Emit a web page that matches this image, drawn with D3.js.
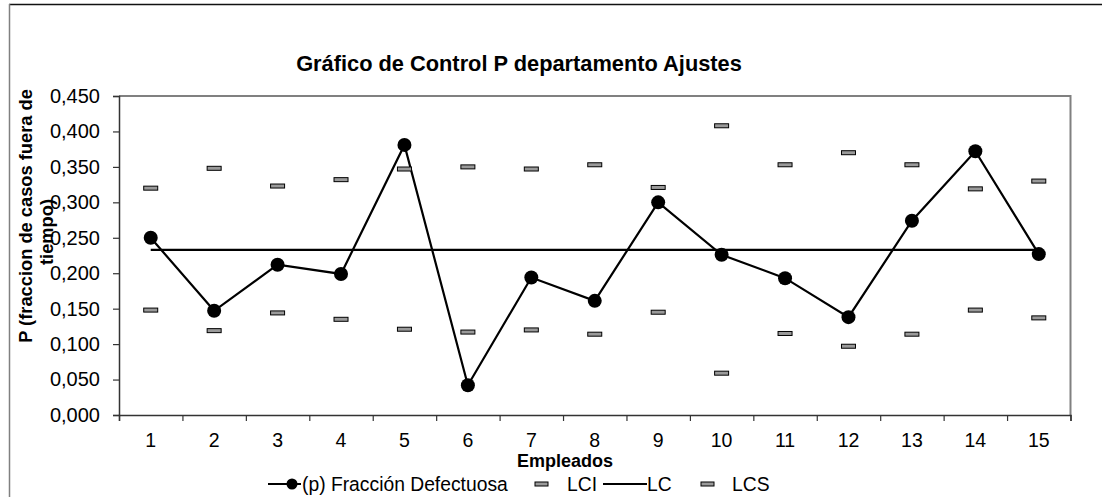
<!DOCTYPE html>
<html><head><meta charset="utf-8">
<script src="https://cdn.jsdelivr.net/npm/d3@7"></script>
<style>
html,body{margin:0;padding:0;background:#fff;}
text{font-family:"Liberation Sans",Arial,sans-serif;fill:#000;}
</style></head>
<body>
<svg id="chart" width="1102" height="497"></svg>
<script>
// ---- data ----
const categories = ["1","2","3","4","5","6","7","8","9","10","11","12","13","14","15"];
const fraccion = [0.250,0.147,0.212,0.199,0.381,0.042,0.194,0.161,0.300,0.226,0.193,0.138,0.274,0.372,0.227];
const lci = [0.148,0.119,0.144,0.135,0.121,0.117,0.120,0.114,0.145,0.059,0.115,0.097,0.114,0.148,0.137];
const lcValue = 0.233;
const lc = categories.map(() => lcValue);
const lcs = [0.320,0.348,0.323,0.332,0.347,0.350,0.347,0.353,0.321,0.408,0.353,0.370,0.353,0.319,0.330];
const yTicks = [0,0.05,0.10,0.15,0.20,0.25,0.30,0.35,0.40,0.45];
const title = "Gráfico de Control P departamento Ajustes";
const xTitle = "Empleados";
const yTitleLines = ["P (fraccion de casos fuera de","tiempo)"];
const legendLabels = ["(p) Fracción Defectuosa","LCI","LC","LCS"];

// ---- layout ----
const svg = d3.select("#chart");
const L = 119, R = 1070.5, T = 96, B = 415;
const x = d3.scaleBand().domain(categories).range([L, R]).padding(0);
const xb = d3.scaleLinear().domain([0, categories.length]).range([L, R]);
const y = d3.scaleLinear().domain([0, 0.45]).range([B, T]);
const loc = d3.formatLocale({decimal:",", thousands:".", grouping:[3], currency:["",""]});
const fmt = loc.format(".3f");
const cx = d => x(d) + x.bandwidth()/2;

// outer chart border
svg.append("line").attr("x1",9).attr("x2",1102).attr("y1",4.5).attr("y2",4.5).attr("stroke","#111").attr("stroke-width",1.5);
svg.append("line").attr("x1",9.5).attr("x2",9.5).attr("y1",4).attr("y2",497).attr("stroke","#808080").attr("stroke-width",1.5);

// plot area border (top/right gray)
svg.append("path").attr("d",`M${L},${T}H${R}V${B}`).attr("fill","none").attr("stroke","#808080").attr("stroke-width",2);

// y axis
const yAxis = svg.append("g").attr("transform",`translate(${L},0)`)
  .call(d3.axisLeft(y).tickValues(yTicks).tickFormat(fmt).tickSize(6).tickPadding(13));
yAxis.select(".domain").attr("stroke","#333").attr("stroke-width",1.5);
yAxis.selectAll(".tick line").attr("stroke","#333").attr("stroke-width",1.2);
yAxis.selectAll("text").style("font-size","20px").attr("fill","#000");

// x axis boundary ticks
const xAxisB = svg.append("g").attr("transform",`translate(0,${B})`)
  .call(d3.axisBottom(xb).tickValues(d3.range(0, categories.length+1)).tickFormat("").tickSize(6));
xAxisB.select(".domain").attr("stroke","#333").attr("stroke-width",1.5);
xAxisB.selectAll(".tick line").attr("stroke","#333").attr("stroke-width",1.2);
// x labels
const xAxisL = svg.append("g").attr("transform",`translate(0,${B})`)
  .call(d3.axisBottom(x).tickSize(0).tickPadding(18));
xAxisL.select(".domain").remove();
xAxisL.selectAll("text").style("font-size","19.5px").attr("fill","#000");

// LC line
svg.append("path").datum(lc)
  .attr("d", d3.line().x((d,i)=>cx(categories[i])).y(d=>y(d)))
  .attr("fill","none").attr("stroke","#000").attr("stroke-width",2.2);

// fraction line
svg.append("path").datum(fraccion)
  .attr("d", d3.line().x((d,i)=>cx(categories[i])).y(d=>y(d)))
  .attr("fill","none").attr("stroke","#000").attr("stroke-width",2.2);

// dash markers
function dashes(data){
  svg.append("g").selectAll("rect").data(data).join("rect")
    .attr("x",(d,i)=>cx(categories[i])-7).attr("y",d=>y(d)-2)
    .attr("width",14).attr("height",4)
    .attr("fill","#9a9a9a").attr("stroke","#000").attr("stroke-width",1);
}
dashes(lci);
dashes(lcs);

// fraction markers
svg.append("g").selectAll("circle").data(fraccion).join("circle")
  .attr("cx",(d,i)=>cx(categories[i])).attr("cy",d=>y(d)).attr("r",7).attr("fill","#000");

// title
svg.append("text").attr("x",519).attr("y",71).attr("text-anchor","middle")
  .style("font-size","21.8px").style("font-weight","bold").text(title);

// x title
svg.append("text").attr("x",565).attr("y",467).attr("text-anchor","middle")
  .style("font-size","18px").style("font-weight","bold").text(xTitle);

// y title (two lines)
const yt = [{t:yTitleLines[0], bx:32, cy:216},{t:yTitleLines[1], bx:53, cy:232}];
yt.forEach(o=>{
  svg.append("text").attr("transform",`translate(${o.bx},${o.cy}) rotate(-90)`)
    .attr("text-anchor","middle").style("font-size","18.3px").style("font-weight","bold").text(o.t);
});

// legend
const ly = 484;
const lg = svg.append("g");
// fraction
lg.append("line").attr("x1",268).attr("x2",301).attr("y1",ly).attr("y2",ly).attr("stroke","#000").attr("stroke-width",2.2);
lg.append("circle").attr("cx",292).attr("cy",ly).attr("r",5.5).attr("fill","#000");
lg.append("text").attr("x",302).attr("y",ly+7).style("font-size","19.3px").text(legendLabels[0]);
// LCI
lg.append("rect").attr("x",535).attr("y",ly-2).attr("width",13).attr("height",4).attr("fill","#9a9a9a").attr("stroke","#000");
lg.append("text").attr("x",567).attr("y",ly+7).style("font-size","19.3px").text(legendLabels[1]);
// LC
lg.append("line").attr("x1",603).attr("x2",647).attr("y1",ly).attr("y2",ly).attr("stroke","#000").attr("stroke-width",2.2);
lg.append("text").attr("x",647).attr("y",ly+7).style("font-size","19.3px").text(legendLabels[2]);
// LCS
lg.append("rect").attr("x",701).attr("y",ly-2).attr("width",13).attr("height",4).attr("fill","#9a9a9a").attr("stroke","#000");
lg.append("text").attr("x",732).attr("y",ly+7).style("font-size","19.3px").text(legendLabels[3]);
</script>
</body></html>
